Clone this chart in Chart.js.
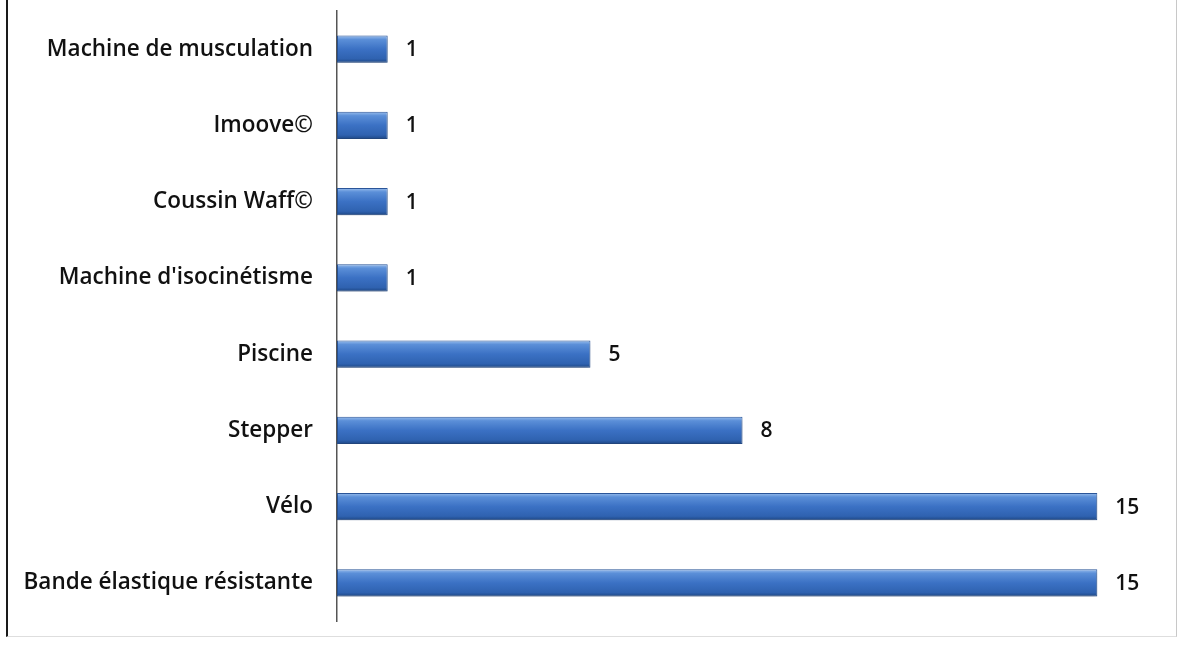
<!DOCTYPE html>
<html>
<head>
<meta charset="utf-8">
<script src="https://cdn.jsdelivr.net/npm/chart.js@4/dist/chart.umd.min.js"></script>
<style>
  html, body { margin: 0; padding: 0; background: #fff; }
  #cadre {
    position: absolute; left: 6px; top: 0; width: 1168px; height: 636px;
    border-left: 2px solid #1a1a1a; border-right: 1px solid #c8c8c8; border-bottom: 1px solid #dedede;
  }
  #graf { position: absolute; left: 0; top: 0; width: 1178px; height: 645px; }
</style>
</head>
<body>
<div id="cadre"></div>
<div id="graf"><canvas id="barChart" width="1178" height="645"></canvas></div>
<script>
// materiel utilise, du haut vers le bas
var equipements = [
    'Machine de musculation',
    'Imoove©',
    'Coussin Waff©',
    "Machine d'isocinétisme",
    'Piscine',
    'Stepper',
    'Vélo',
    'Bande élastique résistante'
];
var effectifs = [1, 1, 1, 1, 5, 8, 15, 15];
var echelleMax = 16;
var epaisseur = 0.36;

var police = '"Open Sans", "Noto Sans", sans-serif';

// degrade bleu en relief, calcule a partir de la position de la categorie
function degradeBleu(context) {
    var chart = context.chart;
    var y = chart.scales.y;
    if (!y || context.dataIndex === undefined) return '#3a70c2';
    var centre = y.getPixelForValue(context.dataIndex);
    var h = (y.height / equipements.length) * epaisseur;
    if (!isFinite(centre) || !isFinite(h) || h <= 0) return '#3a70c2';
    var top = centre - h / 2;
    var g = chart.ctx.createLinearGradient(0, top, 0, top + h);
    g.addColorStop(0, '#9cc0ee');
    g.addColorStop(0.15, '#5b8fd8');
    g.addColorStop(0.5, '#3b71c4');
    g.addColorStop(0.85, '#2f62b0');
    g.addColorStop(1, '#1d4683');
    return g;
}

// ombre legere sous les barres
var ombreBarres = {
    id: 'ombreBarres',
    beforeDatasetsDraw: function (chart) {
        var ctx = chart.ctx;
        ctx.save();
        ctx.shadowColor = 'rgba(0,0,0,0.22)';
        ctx.shadowOffsetY = 3;
        ctx.shadowBlur = 4;
    },
    afterDatasetsDraw: function (chart) {
        chart.ctx.restore();
    }
};

// valeurs a droite des barres
var etiquettes = {
    id: 'etiquettes',
    afterDatasetsDraw: function (chart) {
        var ctx = chart.ctx;
        ctx.save();
        ctx.fillStyle = '#111';
        ctx.font = '600 21px ' + police;
        ctx.textAlign = 'left';
        ctx.textBaseline = 'middle';
        chart.getDatasetMeta(0).data.forEach(function (bar, i) {
            ctx.fillText(String(effectifs[i]), bar.x + 18, bar.y + 1);
        });
        ctx.restore();
    }
};

var barCanvas = document.getElementById('barChart').getContext('2d');
var barChart = new Chart(barCanvas, {
    type: 'bar',
    data: {
        labels: equipements,
        datasets: [{
            data: effectifs,
            backgroundColor: degradeBleu,
            borderColor: '#2a569a',
            borderWidth: 1,
            borderSkipped: false,
            barPercentage: epaisseur,
            categoryPercentage: 1
        }]
    },
    options: {
        indexAxis: 'y',
        responsive: false,
        animation: false,
        maintainAspectRatio: false,
        layout: { padding: { top: 11, bottom: 24, right: 30, left: 0 } },
        plugins: { legend: { display: false }, tooltip: { enabled: false } },
        scales: {
            x: { display: false, min: 0, max: echelleMax },
            y: {
                afterFit: function (scale) {
                    scale.width = 337;
                    scale.paddingTop = 0;
                    scale.paddingBottom = 0;
                },
                grid: { display: false, drawTicks: false },
                border: { display: true, color: '#555', width: 1.5 },
                ticks: {
                    padding: 24,
                    color: '#111',
                    font: { family: police, size: 22.5, weight: '600' }
                }
            }
        }
    },
    plugins: [ombreBarres, etiquettes]
});
</script>
</body>
</html>
